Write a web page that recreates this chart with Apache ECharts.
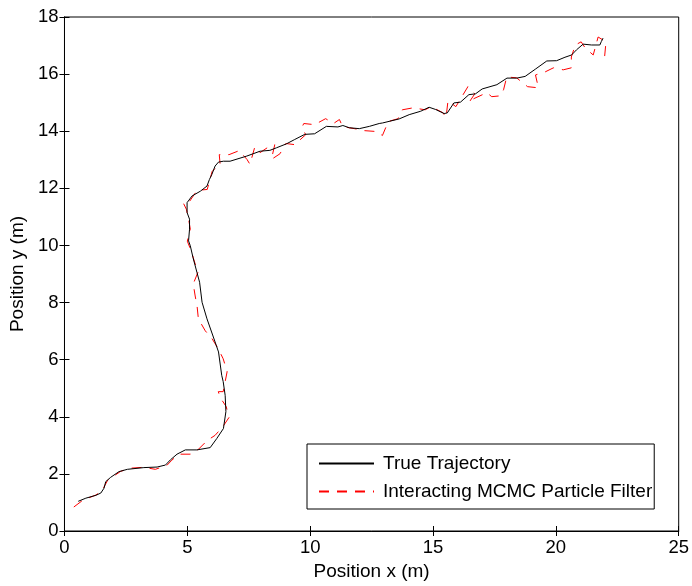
<!DOCTYPE html>
<html><head><meta charset="utf-8">
<script src="https://cdn.jsdelivr.net/npm/echarts@6/dist/echarts.min.js"></script>
<style>html,body{margin:0;padding:0;background:#fff}#c{width:692px;height:586px}</style>
</head><body><div id="c"></div>
<script>
const xTicks = [0, 5, 10, 15, 20, 25];
const yTicks = [0, 2, 4, 6, 8, 10, 12, 14, 16, 18];
const seriesNames = ['True Trajectory', 'Interacting MCMC Particle Filter'];
const trueTrajectory = [[0.56,1.04],[0.87,1.15],[1.28,1.25],[1.48,1.33],[1.61,1.50],[1.68,1.73],[1.88,1.88],[2.22,2.08],[2.56,2.16],[3.23,2.22],[3.77,2.24],[4.11,2.31],[4.31,2.49],[4.58,2.69],[4.92,2.84],[5.39,2.84],[5.93,2.92],[6.20,3.24],[6.47,3.59],[6.54,3.65],[6.57,4.18],[6.54,4.75],[6.46,5.23],[6.40,5.45],[6.27,6.27],[6.13,6.62],[5.80,7.43],[5.60,8.01],[5.50,8.71],[5.39,9.06],[5.23,9.58],[5.12,9.99],[5.05,10.16],[5.09,10.57],[5.09,10.92],[4.99,11.15],[4.92,11.21],[4.99,11.50],[5.19,11.73],[5.53,11.90],[5.80,12.08],[5.90,12.31],[6.00,12.49],[6.13,12.78],[6.27,12.92],[6.47,12.95],[6.74,12.95],[7.42,13.13],[7.96,13.30],[8.36,13.33],[8.63,13.42],[9.04,13.56],[9.37,13.71],[9.78,13.89],[10.18,13.91],[10.66,14.17],[11.13,14.15],[11.33,14.20],[11.60,14.12],[12.00,14.09],[12.41,14.17],[12.81,14.27],[12.95,14.29],[13.62,14.43],[14.03,14.58],[14.50,14.70],[14.84,14.84],[15.11,14.76],[15.45,14.62],[15.58,14.64],[15.85,14.99],[16.12,15.02],[16.46,15.28],[16.73,15.31],[17.00,15.48],[17.60,15.63],[18.01,15.86],[18.41,15.86],[18.75,15.92],[19.16,16.17],[19.63,16.46],[20.03,16.47],[20.37,16.59],[20.64,16.67],[20.84,16.85],[21.11,17.05],[21.45,17.02],[21.79,17.02],[21.85,17.14],[21.92,17.26]];
const filterEstimate = [[0.38,0.84],[0.75,1.08],[1.28,1.26],[1.52,1.40],[1.76,1.78],[2.00,1.92],[2.29,2.09],[2.69,2.20],[3.22,2.23],[3.70,2.16],[4.17,2.30],[4.37,2.48],[4.60,2.65],[4.72,2.69],[5.12,2.69],[5.45,2.86],[5.81,3.17],[6.13,3.35],[6.45,3.66],[6.70,3.98],[6.58,4.36],[6.34,4.67],[6.26,4.88],[6.46,4.88],[6.62,5.58],[6.46,6.03],[6.26,6.38],[6.01,6.73],[5.73,7.01],[5.45,7.43],[5.40,7.85],[5.32,8.23],[5.24,8.65],[5.45,9.10],[5.32,9.35],[5.16,9.80],[5.00,10.15],[5.12,10.57],[5.04,10.99],[4.96,11.27],[4.84,11.48],[5.04,11.48],[5.40,11.93],[5.81,11.96],[6.01,12.59],[6.17,12.73],[6.34,12.80],[6.30,13.18],[6.70,13.18],[7.11,13.32],[7.43,13.01],[7.55,12.84],[7.75,13.46],[7.96,13.25],[8.32,13.46],[8.56,13.53],[8.42,13.01],[8.77,13.21],[9.01,13.57],[9.37,13.53],[9.82,13.88],[9.66,14.13],[9.74,14.27],[10.18,14.23],[10.63,14.44],[10.95,14.27],[11.19,14.41],[11.32,14.16],[11.80,14.09],[12.21,14.02],[12.69,13.99],[12.94,13.85],[13.18,14.34],[13.58,14.44],[13.75,14.75],[14.19,14.82],[14.68,14.75],[14.92,14.86],[15.40,14.65],[15.53,14.48],[15.61,15.07],[15.93,14.86],[16.42,15.56],[16.70,15.31],[16.46,15.00],[16.66,15.14],[17.19,15.35],[17.39,15.21],[17.75,15.24],[17.87,15.45],[18.00,15.90],[18.40,15.87],[18.85,15.56],[19.29,15.52],[19.17,15.97],[19.57,16.08],[19.90,16.22],[20.30,16.15],[20.63,16.22],[20.63,16.60],[20.79,17.02],[21.03,17.13],[21.19,16.92],[21.52,16.67],[21.72,17.30],[22.04,17.13],[21.96,16.39]];

const font = 'Liberation Sans, Arial, Helvetica, sans-serif';
const chart = echarts.init(document.getElementById('c'), null, {renderer: 'canvas'});
const tickStyle = {show: true, inside: true, length: 5, lineStyle: {color: '#000', width: 1}};
chart.setOption({
  animation: false,
  backgroundColor: '#fff',
  grid: {left: 63.5, right: 11, top: 17, bottom: 53, show: true, borderColor: '#000', borderWidth: 1, backgroundColor: 'transparent'},
  legend: {
    orient: 'vertical', left: 307, top: 444,
    data: seriesNames,
    itemWidth: 55, itemHeight: 14, itemGap: 9,
    padding: [10, 2, 8, 11],
    borderColor: '#000', borderWidth: 1, backgroundColor: '#fff',
    itemStyle: {opacity: 0},
    textStyle: {fontFamily: font, fontSize: 19, color: '#000', padding: [0, 0, 0, 4]}
  },
  xAxis: [{
    type: 'value', min: xTicks[0], max: xTicks[xTicks.length - 1], interval: 5,
    name: 'Position x (m)', nameLocation: 'middle', nameGap: 31,
    nameTextStyle: {fontFamily: font, fontSize: 19, color: '#000'},
    axisLine: {show: true, lineStyle: {color: '#000'}},
    axisTick: tickStyle, splitLine: {show: false},
    axisLabel: {fontFamily: font, fontSize: 18.5, color: '#000', margin: 7}
  }, {
    type: 'value', position: 'top', min: xTicks[0], max: xTicks[xTicks.length - 1], interval: 5,
    axisLine: {show: true, lineStyle: {color: '#000'}}, axisTick: tickStyle,
    axisLabel: {show: false}, splitLine: {show: false}
  }],
  yAxis: [{
    type: 'value', min: yTicks[0], max: yTicks[yTicks.length - 1], interval: 2,
    name: 'Position y (m)', nameLocation: 'middle', nameGap: 36,
    nameTextStyle: {fontFamily: font, fontSize: 19, color: '#000'},
    axisLine: {show: true, lineStyle: {color: '#000'}},
    axisTick: tickStyle, splitLine: {show: false},
    axisLabel: {fontFamily: font, fontSize: 18.5, color: '#000', margin: 6}
  }, {
    type: 'value', position: 'right', min: yTicks[0], max: yTicks[yTicks.length - 1], interval: 2,
    axisLine: {show: true, lineStyle: {color: '#000'}}, axisTick: tickStyle,
    axisLabel: {show: false}, splitLine: {show: false}
  }],
  series: [{
    name: seriesNames[0], type: 'line', data: trueTrajectory,
    showSymbol: false, symbol: 'none', smooth: false,
    lineStyle: {color: '#000', width: 1}, itemStyle: {color: '#000'}, z: 3
  }, {
    name: seriesNames[1], type: 'line', data: filterEstimate,
    showSymbol: false, symbol: 'none', smooth: false,
    lineStyle: {color: '#ff0000', width: 1, type: [10, 8]}, itemStyle: {color: '#ff0000'}, z: 2
  }]
});
</script></body></html>
